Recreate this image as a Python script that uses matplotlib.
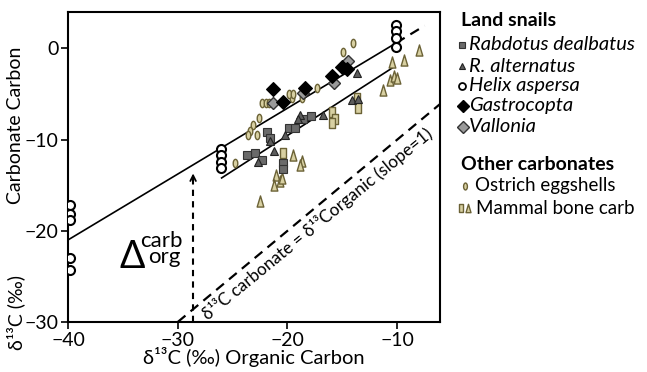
import matplotlib
matplotlib.use("Agg")
import matplotlib.pyplot as plt
from matplotlib.path import Path

plt.rcParams['font.family'] = ['Lato', 'DejaVu Sans']

# --- data ---
helix_x = [-39.8, -39.8, -39.8, -39.8, -39.8, -26.1, -26.1, -26.1, -26.1, -10.1, -10.1, -10.1, -10.1]
helix_y = [-17.2, -18.1, -18.8, -23.0, -24.3, -11.0, -11.7, -12.4, -13.1, 2.6, 1.9, 1.1, 0.2]

rabdotus_x = [-21.9, -21.6, -19.9, -19.3, -18.6, -17.9, -23.0, -23.7, -22.3, -20.4, -20.4]
rabdotus_y = [-9.2, -9.8, -8.7, -8.7, -7.7, -7.4, -11.5, -11.7, -12.2, -12.6, -13.2]

ralt_x = [-13.7, -14.1, -13.6, -18.9, -19.0, -16.8, -20.2, -21.2, -22.7, -21.6]
ralt_y = [-2.7, -5.7, -5.5, -7.3, -7.7, -7.3, -9.5, -11.2, -12.5, -10.1]

gastro_x = [-21.3, -20.4, -18.4, -15.9, -15.0, -14.6]
gastro_y = [-4.4, -5.9, -4.3, -3.0, -2.0, -2.2]

vallonia_x = [-21.3, -18.6, -15.8, -14.5]
vallonia_y = [-6.0, -4.9, -3.8, -1.4]

ostrich_x = [-14.0, -14.9, -22.3, -22.0, -21.7, -22.6, -19.6, -18.7, -17.3, -23.1, -23.4, -23.6, -22.8, -24.8, -19.9, -19.5]
ostrich_y = [0.6, -0.4, -6.0, -6.0, -6.0, -7.6, -5.4, -5.4, -4.3, -8.4, -9.0, -9.5, -9.5, -12.6, -5.0, -5.0]

bone_rect_x = [-13.7, -13.6, -15.9, -15.7, -15.9, -20.4]
bone_rect_y = [-5.4, -6.5, -7.0, -7.7, -8.2, -11.5]

bone_tri_x = [-8.0, -9.4, -10.5, -10.7, -10.3, -10.0, -11.3, -19.5, -18.7, -18.9, -21.0, -20.7, -20.5, -21.2, -22.5]
bone_tri_y = [-0.2, -1.3, -1.5, -3.5, -3.0, -3.2, -4.5, -11.7, -12.3, -12.8, -13.9, -14.5, -14.2, -15.0, -16.7]

# fitted lines (endpoints)
upper_line_x = [-40, -10.1]
upper_line_y = [-21.0, 0.6]
upper_dash_x = [-10.1, -7.5]
upper_dash_y = [0.6, 2.5]
lower_line_x = [-26.0, -10.4]
lower_line_y = [-14.2, -2.1]
one_to_one = [-30, -6.1]

# custom marker shapes
circ = Path.unit_circle()
ellipse = Path(circ.vertices * [0.55, 1.0], circ.codes)
tall_rect = Path([(-0.55, -1), (0.55, -1), (0.55, 1), (-0.55, 1), (-0.55, -1)],
                 [Path.MOVETO, Path.LINETO, Path.LINETO, Path.LINETO, Path.CLOSEPOLY])
tall_tri = Path([(-0.6, -1), (0.6, -1), (0, 1), (-0.6, -1)],
                [Path.MOVETO, Path.LINETO, Path.LINETO, Path.CLOSEPOLY])

olive_edge = '#6b6236'
khaki = '#d8d0a2'

fig = plt.figure(figsize=(6.47, 3.72), dpi=100)
ax = fig.add_axes([68 / 647, 50 / 372, 372 / 647, 310 / 372])

ax.plot(upper_line_x, upper_line_y, color='black', lw=1.2, zorder=2)
ax.plot(upper_dash_x, upper_dash_y, color='black', lw=1.6, ls=(0, (4.5, 3)), zorder=2)
ax.plot(lower_line_x, lower_line_y, color='black', lw=1.2, zorder=2)
ax.plot(one_to_one, one_to_one, color='black', lw=1.6, ls=(0, (4.5, 3)), zorder=2)

ax.plot(ostrich_x, ostrich_y, ls='none', marker=ellipse, ms=6, mfc=khaki, mec=olive_edge, mew=1.0, zorder=3)
ax.plot(bone_rect_x, bone_rect_y, ls='none', marker=tall_rect, ms=7, mfc=khaki, mec=olive_edge, mew=1.0, zorder=3)
ax.plot(bone_tri_x, bone_tri_y, ls='none', marker=tall_tri, ms=8, mfc=khaki, mec=olive_edge, mew=1.0, zorder=3)
ax.plot(rabdotus_x, rabdotus_y, ls='none', marker='s', ms=6, mfc='#6a6a6a', mec='#333333', mew=0.8, zorder=4)
ax.plot(ralt_x, ralt_y, ls='none', marker='^', ms=6, mfc='#5c5c5c', mec='#222222', mew=0.8, zorder=4)
ax.plot(helix_x, helix_y, ls='none', marker='o', ms=6.5, mfc='white', mec='black', mew=1.5, zorder=4)
ax.plot(vallonia_x, vallonia_y, ls='none', marker='D', ms=6.5, mfc='#9a9a9a', mec='#333333', mew=1.0, zorder=5)
ax.plot(gastro_x, gastro_y, ls='none', marker='D', ms=7, mfc='black', mec='black', mew=0.8, zorder=5)

# vertical dashed arrow (Delta carb-org)
arrow_x = -28.6
ax.plot([arrow_x, arrow_x], [-30, -14.2], color='black', lw=1.5, ls=(0, (3, 2.5)), zorder=2)
ax.annotate('', xy=(arrow_x, -13.4), xytext=(arrow_x, -14.6),
            arrowprops=dict(arrowstyle='->', lw=1.3, color='black', mutation_scale=10))

ax.text(-35.3, -24.1, 'Δ', fontsize=27, ha='left', va='baseline')
ax.text(-33.4, -21.8, 'carb', fontsize=16, ha='left', va='baseline')
ax.text(-32.7, -23.5, 'org', fontsize=16, ha='left', va='baseline')

ax.text(-27.2, -29.85, 'δ¹³C carbonate = δ¹³Corganic (slope=1)', fontsize=12.3,
        rotation=39.3, rotation_mode='anchor', ha='left', va='baseline')

ax.set_xlim(-40, -6.1)
ax.set_ylim(-30, 4.0)
ax.set_xticks([-40, -30, -20, -10])
ax.set_yticks([-30, -20, -10, 0])
ax.tick_params(direction='out', length=5, width=1.2, labelsize=14, pad=2)
for s in ax.spines.values():
    s.set_linewidth(1.5)

ax.set_xlabel('δ¹³C (‰) Organic Carbon', fontsize=14.5, labelpad=-1)
fig.text(16 / 647, 1 - 312 / 372, 'δ¹³C (‰)', rotation=90, fontsize=14, ha='center', va='center')
fig.text(16 / 647, 1 - 125 / 372, 'Carbonate Carbon', rotation=90, fontsize=14, ha='center', va='center')

# legend drawn in pixel coordinates
lax = fig.add_axes([0, 0, 1, 1])
lax.set_xlim(0, 647)
lax.set_ylim(372, 0)
lax.axis('off')

leg_fs = 14
lax.text(461, 21, 'Land snails', fontsize=leg_fs, fontweight='bold', va='center', ha='left')
lax.plot(462, 45, marker='s', ms=5, mfc='#6a6a6a', mec='#333333', mew=0.8)
lax.text(469, 45, 'Rabdotus dealbatus', fontsize=leg_fs + 0.5, style='italic', va='center')
lax.plot(462, 66, marker='^', ms=5, mfc='#5c5c5c', mec='#222222', mew=0.8)
lax.text(469, 66, 'R. alternatus', fontsize=leg_fs + 0.5, style='italic', va='center')
lax.plot(462, 86, marker='o', ms=5, mfc='white', mec='black', mew=1.3)
lax.text(469, 86, 'Helix aspersa', fontsize=leg_fs + 0.5, style='italic', va='center')
lax.plot(463, 106, marker='D', ms=6.5, mfc='black', mec='black')
lax.text(469, 106, 'Gastrocopta', fontsize=leg_fs + 0.5, style='italic', va='center')
lax.plot(463, 127, marker='D', ms=6.5, mfc='#9a9a9a', mec='#333333', mew=1.0)
lax.text(469, 127, 'Vallonia', fontsize=leg_fs + 0.5, style='italic', va='center')

lax.text(461, 164, 'Other carbonates', fontsize=leg_fs, fontweight='bold', va='center', ha='left')
lax.plot(465, 186, marker=ellipse, ms=5, mfc=khaki, mec=olive_edge, mew=1.0)
lax.text(475, 186, 'Ostrich eggshells', fontsize=leg_fs - 0.5, va='center')
lax.plot(461, 208, marker=tall_rect, ms=6, mfc=khaki, mec=olive_edge, mew=1.0)
lax.plot(468, 208, marker=tall_tri, ms=6, mfc=khaki, mec=olive_edge, mew=1.0)
lax.text(476, 208, 'Mammal bone carb', fontsize=leg_fs - 0.5, va='center')

fig.savefig('out.png', dpi=100)
